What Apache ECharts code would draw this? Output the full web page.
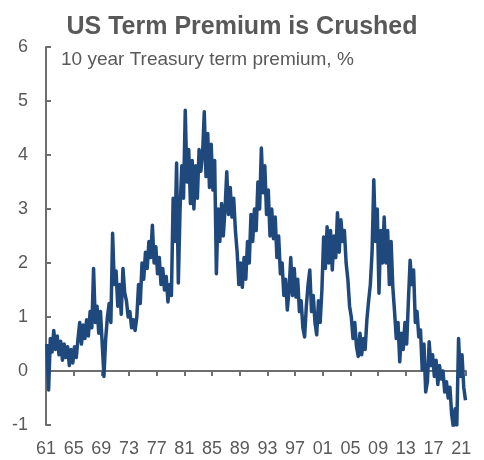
<!DOCTYPE html>
<html>
<head>
<meta charset="utf-8">
<script src="https://cdn.jsdelivr.net/npm/echarts@6/dist/echarts.min.js"></script>
<style>
html,body{margin:0;padding:0;background:#fff;}
#chart{width:484px;height:460px;}
</style>
</head>
<body>
<div id="chart"></div>
<script>
// Chart data
const titleText = 'US Term Premium is Crushed';
const subtitleText = '10 year Treasury term premium, %';
const startYear = 1961;          // first quarter of the series
const quartersPerYear = 4;
// Quarterly readings of the 10y term premium, %, 1961 Q1 .. 2021 Q3
const values = [
  0.5, -0.35, 0.6, 0.35,      // 1961
  0.75, 0.4, 0.65, 0.3,       // 1962
  0.55, 0.2, 0.5, 0.25,       // 1963
  0.45, 0.1, 0.4, 0.15,       // 1964
  0.45, 0.25, 0.6, 0.9,       // 1965
  0.5, 0.85, 0.6, 0.95,       // 1966
  0.65, 1.1, 0.8, 1.9,        // 1967
  0.9, 1.2, 0.7, 1.1,         // 1968
  0.5, -0.1, 0.6, 1.0,        // 1969
  1.25, 0.9, 2.55, 1.6,       // 1970
  1.85, 1.2, 1.6, 1.05,       // 1971
  1.9, 1.45, 1.3, 1.0,        // 1972
  1.1, 0.8, 0.95, 0.75,       // 1973
  1.0, 1.6, 1.25, 2.0,        // 1974
  1.7, 2.2, 1.9, 2.4,         // 1975
  2.1, 2.7, 2.0, 2.3,         // 1976
  1.8, 2.1, 1.6, 1.9,         // 1977
  1.5, 1.75, 1.28, 1.6,       // 1978
  1.4, 3.2, 2.4, 3.85,        // 1979
  1.63, 3.0, 3.8, 3.2,        // 1980
  4.83, 3.5, 4.1, 3.1,        // 1981
  3.9, 3.0, 3.8, 3.2,         // 1982
  4.1, 3.7, 4.0, 4.8,         // 1983
  3.6, 4.4, 3.4, 4.2,         // 1984
  3.35, 3.9, 1.8, 3.0,        // 1985
  2.4, 3.1, 2.5, 3.0,         // 1986
  3.69, 2.9, 3.4, 2.85,       // 1987
  3.2, 2.6, 2.2, 1.6,         // 1988
  2.0, 1.55, 2.1, 1.7,        // 1989
  2.4, 2.0, 2.9, 2.4,         // 1990
  3.0, 2.6, 3.5, 3.0,         // 1991
  4.13, 3.3, 3.8, 2.9,        // 1992
  3.35, 2.5, 3.0, 2.45,       // 1993
  2.85, 2.1, 2.5, 1.8,        // 1994
  2.0, 1.4, 1.7, 1.13,        // 1995
  1.5, 2.1, 1.4, 1.9,         // 1996
  1.37, 1.7, 1.1, 1.3,        // 1997
  0.8, 0.63, 1.2, 1.6,        // 1998
  1.87, 1.1, 1.4, 0.9,        // 1999
  0.67, 1.3, 0.9, 1.5,        // 2000
  2.48, 1.9, 2.67, 2.0,       // 2001
  2.6, 1.87, 2.5, 2.1,        // 2002
  2.93, 2.2, 2.8, 2.4,        // 2003
  2.6, 2.0, 1.7, 1.2,         // 2004
  1.0, 0.6, 0.9, 0.45,        // 2005
  0.27, 0.7, 0.3, 0.6,        // 2006
  0.4, 0.95, 1.3, 1.6,        // 2007
  2.2, 3.54, 2.4, 3.0,        // 2008
  1.44, 2.6, 2.0, 2.85,       // 2009
  2.0, 2.6, 1.6, 2.4,         // 2010
  1.55, 1.1, 0.6, 0.9,        // 2011
  0.17, 0.7, 0.4, 0.9,        // 2012
  0.5, 1.3, 2.05, 1.6,        // 2013
  1.87, 0.9, 1.1, 0.63,       // 2014
  0.76, 0.02, 0.5, -0.39,     // 2015
  -0.2, 0.54, 0.1, 0.3,       // 2016
  -0.1, 0.2, -0.25, 0.1,      // 2017
  -0.15, 0.0, -0.39, -0.2,    // 2018
  -0.5, -0.3, -0.8, -1.04,    // 2019
  -0.7, -1.0, 0.6, -0.1,      // 2020
  0.3, -0.3, -0.54            // 2021
];
const xTickLabels = ['61','65','69','73','77','81','85','89','93','97','01','05','09','13','17','21'];
const xTickStep = 4;
const yMin = -1, yMax = 6, yStep = 1;
const xMin = 1961, xMax = 2021.7;

const seriesData = values.map((v, i) => [startYear + (i + 0.5) / quartersPerYear, v]);

const FONT = 'Liberation Sans, Arial, sans-serif';
const GRAY = '#595959';
const AXIS = '#6e6e6e';

const chart = echarts.init(document.getElementById('chart'), null, {renderer: 'canvas'});
chart.setOption({
  animation: false,
  backgroundColor: '#ffffff',
  title: [
    {text: titleText, left: 'center', top: 10,
     textStyle: {fontFamily: FONT, fontSize: 25, fontWeight: 'bold', color: GRAY}},
    {text: subtitleText, left: 56, top: 45,
     textStyle: {fontFamily: FONT, fontSize: 19, fontWeight: 'normal', color: GRAY}}
  ],
  grid: {left: 46, right: 18, top: 47, bottom: 35, containLabel: false},
  xAxis: [
    {type: 'value', min: xMin, max: xMax, interval: xTickStep, position: 'bottom',
     axisLine: {show: true, onZero: true, lineStyle: {color: AXIS, width: 2}},
     axisTick: {show: true, inside: false, length: 5, lineStyle: {color: AXIS, width: 2}},
     axisLabel: {show: false}, splitLine: {show: false}},
    {type: 'value', min: xMin, max: xMax, interval: xTickStep, position: 'bottom',
     axisLine: {show: false, onZero: false}, axisTick: {show: false}, splitLine: {show: false},
     axisLabel: {show: true, margin: 15, showMaxLabel: false, fontFamily: FONT, fontSize: 18, color: GRAY,
       formatter: function (v) {
         const k = (v - xMin) / xTickStep;
         return Number.isInteger(Math.round(k * 1000) / 1000) && xTickLabels[Math.round(k)] !== undefined ? xTickLabels[Math.round(k)] : '';
       }}}
  ],
  yAxis: {type: 'value', min: yMin, max: yMax, interval: yStep,
    axisLine: {show: true, onZero: false, lineStyle: {color: AXIS, width: 2}},
    axisTick: {show: true, inside: true, length: 5, lineStyle: {color: AXIS, width: 2}},
    axisLabel: {margin: 18, fontFamily: FONT, fontSize: 18, color: GRAY},
    splitLine: {show: false}},
  series: [{
    type: 'line', xAxisIndex: 0, data: seriesData, showSymbol: false, symbol: 'none',
    lineStyle: {color: '#1F497D', width: 3.5, join: 'round'}, z: 3
  }]
});
</script>
</body>
</html>
